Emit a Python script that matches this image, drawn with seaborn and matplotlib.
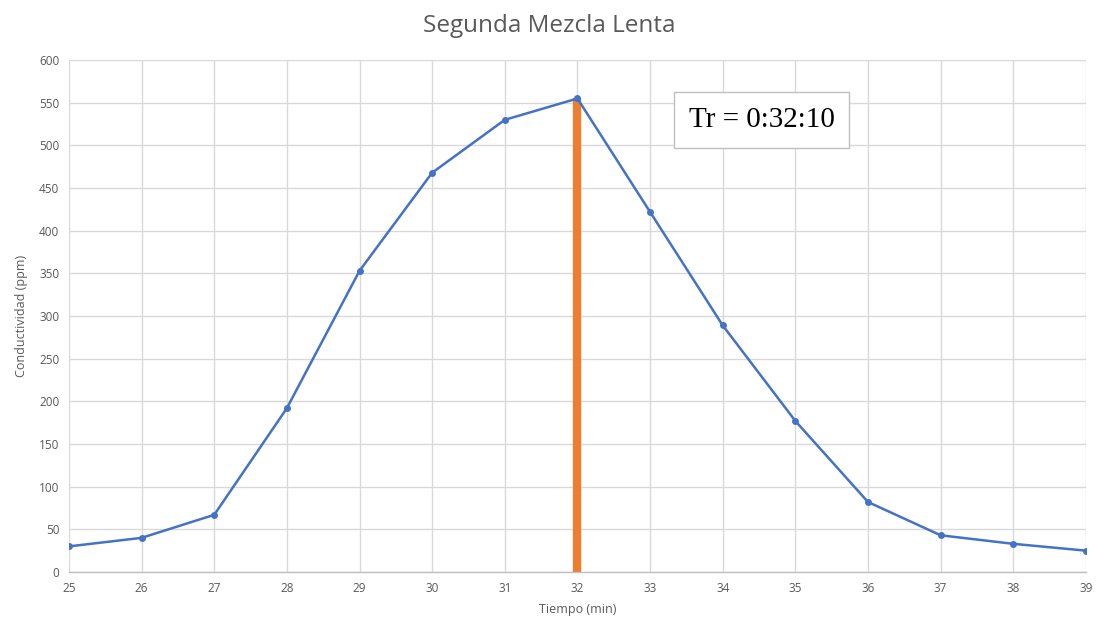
import matplotlib
matplotlib.use("Agg")
import matplotlib.pyplot as plt
import seaborn as sns
import pandas as pd

# Conductivity readings over time
tiempo = [25, 26, 27, 28, 29, 30, 31, 32, 33, 34, 35, 36, 37, 38, 39]
conductividad = [30, 40, 67, 192, 353, 468, 530, 555, 422, 289, 177, 82, 43, 33, 25]

# Retention time marker
tr_x = 32
tr_y = [0, 555]
tr_label = "Tr = 0:32:10"

sns.set_theme(style="whitegrid")
plt.rcParams["font.family"] = ["Open Sans", "DejaVu Sans"]

df = pd.DataFrame({"Tiempo (min)": tiempo, "Conductividad (ppm)": conductividad})

fig = plt.figure(figsize=(10.98, 6.26), dpi=100)
ax = fig.add_axes([0.0628, 0.0863, 0.9262, 0.8177])

# Vertical retention-time bar
ax.plot([tr_x, tr_x], tr_y, color="#ED7D31", linewidth=6, solid_capstyle="butt", zorder=2)

sns.lineplot(data=df, x="Tiempo (min)", y="Conductividad (ppm)", ax=ax,
             color="#4472C4", linewidth=1.8, marker="o", markersize=5,
             markeredgewidth=0, zorder=3)

ax.set_xlim(25, 39)
ax.set_ylim(0, 600)
ax.set_xticks(tiempo)
ax.set_yticks(range(0, 601, 50))

grid_c = "#D9D9D9"
ax.grid(True, color=grid_c, linewidth=1.0)
for side in ["top", "right"]:
    ax.spines[side].set_visible(False)
ax.spines["left"].set_visible(False)
ax.spines["bottom"].set_color("#BFBFBF")
ax.spines["bottom"].set_linewidth(1.0)

ax.tick_params(axis="both", colors="#595959", labelsize=8.5, length=0, pad=7)
ax.set_xlabel("Tiempo (min)", fontsize=9, color="#595959", labelpad=6)
ax.set_ylabel("Conductividad (ppm)", fontsize=9, color="#595959", labelpad=8)

fig.suptitle("Segunda Mezcla Lenta", fontsize=17.5, color="#595959", y=0.978)

ax.text(0.681, 0.883, tr_label, transform=ax.transAxes, ha="center", va="center",
        fontsize=21, family=["Liberation Serif", "DejaVu Serif"], color="black",
        bbox=dict(boxstyle="square,pad=0.5", facecolor="white", edgecolor="#BFBFBF", linewidth=1))

fig.savefig("out.png", dpi=100)
